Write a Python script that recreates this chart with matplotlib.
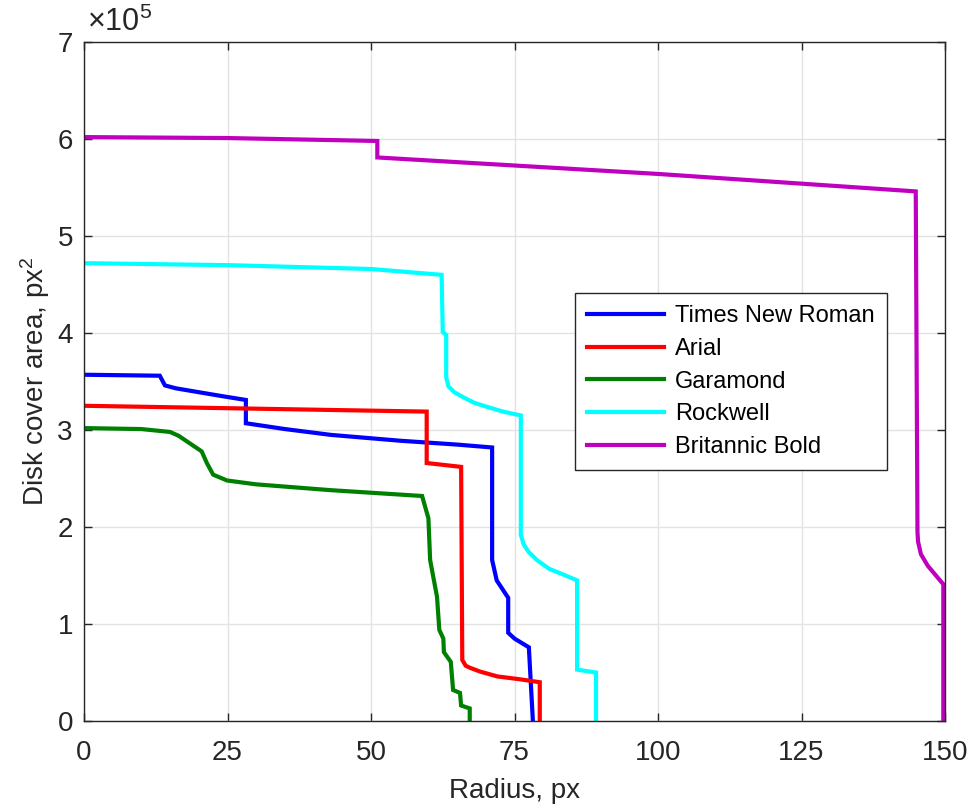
import matplotlib
matplotlib.use('Agg')
import matplotlib.pyplot as plt
from matplotlib.ticker import FuncFormatter

plt.rcParams['font.family'] = ['Liberation Sans', 'DejaVu Sans']
plt.rcParams['mathtext.fontset'] = 'custom'
plt.rcParams['mathtext.rm'] = 'Liberation Sans'
plt.rcParams['mathtext.it'] = 'Liberation Sans'

# radius (px) and disk cover area (units of 1e5 px^2)
tnr_r = [0, 13.2, 14.1, 16, 20, 24, 28.2, 28.2, 35, 43, 55, 65, 71.1, 71.1, 71.9, 73.9, 73.9, 75, 77.5, 78.2]
tnr_a = [3.57, 3.56, 3.46, 3.43, 3.39, 3.35, 3.31, 3.07, 3.01, 2.95, 2.89, 2.85, 2.82, 1.66, 1.45, 1.27, 0.91, 0.85, 0.76, 0]

arial_r = [0, 30, 59.7, 59.7, 65.7, 65.9, 66.5, 67.2, 69, 72, 76, 79.4, 79.4]
arial_a = [3.25, 3.22, 3.19, 2.66, 2.62, 0.63, 0.57, 0.55, 0.51, 0.46, 0.43, 0.40, 0]

gara_r = [0, 10, 15, 16.5, 18.5, 20.5, 21.4, 22.5, 24.9, 30, 43, 58.9, 60, 60.3, 61.5, 61.9, 62.6, 62.7,
          63.9, 64.3, 65.5, 65.7, 67.2, 67.2]
gara_a = [3.02, 3.01, 2.98, 2.94, 2.86, 2.78, 2.66, 2.54, 2.48, 2.44, 2.38, 2.32, 2.09, 1.66, 1.28, 0.94, 0.85, 0.71,
          0.61, 0.32, 0.29, 0.16, 0.13, 0]

rock_r = [0, 25, 50, 62.3, 62.5, 63.1, 63.1, 63.5, 64.5, 66, 68, 70.7, 73, 76.1, 76.1, 76.6, 77.5, 78.9, 81, 83.5,
          85.9, 85.9, 89.2, 89.2]
rock_a = [4.72, 4.70, 4.66, 4.60, 4.01, 3.98, 3.54, 3.45, 3.39, 3.34, 3.28, 3.23, 3.19, 3.15, 1.92, 1.82, 1.74, 1.66,
          1.57, 1.51, 1.45, 0.53, 0.50, 0]

brit_r = [0, 25, 51.1, 51.1, 100, 144.9, 145.2, 145.3, 145.8, 147, 149.7, 149.7]
brit_a = [6.02, 6.01, 5.98, 5.81, 5.64, 5.46, 1.95, 1.85, 1.72, 1.60, 1.41, 0]

series = [
    ('Times New Roman', tnr_r, tnr_a, '#0000ff'),
    ('Arial', arial_r, arial_a, '#ff0000'),
    ('Garamond', gara_r, gara_a, '#008000'),
    ('Rockwell', rock_r, rock_a, '#00ffff'),
    ('Britannic Bold', brit_r, brit_a, '#bf00bf'),
]

fig = plt.figure(figsize=(9.79, 8.05), dpi=100)
ax = fig.add_axes([0.0858, 0.1043, 0.8795, 0.8435])

for name, r, a, color in series:
    ax.plot(r, [v * 1e5 for v in a], color=color, lw=3, label=name, solid_joinstyle='miter')

ax.set_xlim(0, 150)
ax.set_ylim(0, 7e5)
ax.set_xticks([0, 25, 50, 75, 100, 125, 150])
ax.set_yticks([i * 1e5 for i in range(8)])
ax.yaxis.set_major_formatter(FuncFormatter(lambda v, p: f'{v / 1e5:g}'))

ax.grid(True, color='#e3e3e3', lw=1)
ax.set_axisbelow(True)
for s in ax.spines.values():
    s.set_color('#262626')
    s.set_linewidth(1)
ax.tick_params(direction='in', top=True, right=True, length=6, width=1,
               colors='#262626', labelsize=20)
ax.tick_params(axis='x', pad=14)
ax.tick_params(axis='y', pad=8)

ax.set_xlabel('Radius, px', fontsize=20, color='#262626', labelpad=8)
ax.set_ylabel('Disk cover area, px$^2$', fontsize=20, color='#262626', labelpad=4)
ax.text(0.003, 1.006, r'$\times10^5$', transform=ax.transAxes, fontsize=22,
        color='#262626', ha='left', va='bottom')

leg = ax.legend(loc='center', bbox_to_anchor=(0.751, 0.500), fontsize=17,
                fancybox=False, framealpha=1, edgecolor='#262626',
                handlelength=3.3, handletextpad=0.45, labelspacing=0.45,
                borderpad=0.5)
leg.get_frame().set_linewidth(1)

fig.savefig('out.png', dpi=100)
